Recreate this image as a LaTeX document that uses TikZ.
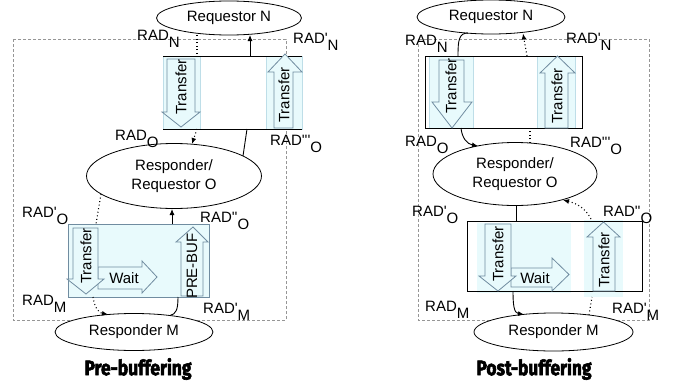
\documentclass[tikz,border=0pt]{standalone}
\usepackage{fontspec}
\setmainfont{Liberation Sans}
\newfontfamily\capfont{Fira Sans}[BoldFeatures={FakeBold=3}]
\usetikzlibrary{arrows.meta,shapes.geometric}
\definecolor{cyanfill}{RGB}{232,250,252}
\definecolor{stripline}{RGB}{190,222,232}
\definecolor{arrline}{RGB}{112,140,160}
\definecolor{dashc}{RGB}{150,150,150}
\newcommand\sbs[1]{\raisebox{-7pt}{#1}}
\newcommand\pq{\textquotesingle}
\tikzset{
  every node/.style={font=\fontsize{15}{19}\selectfont, inner sep=0pt},
  proc/.style={ellipse, draw=black, fill=white, line width=0.8pt, align=center},
  dashbox/.style={draw=dashc, dash pattern=on 3pt off 2pt, line width=0.7pt},
  strip/.style={fill=cyanfill, draw=stripline, line width=0.6pt},
  blk/.style={draw=black, line width=0.9pt},
  barrow/.style={draw=arrline, fill=cyanfill, line width=0.8pt},
  solidc/.style={draw=black, line width=0.9pt},
  dotc/.style={draw=black, line width=1.1pt, dash pattern=on 1pt off 2.6pt},
  arrtip/.style={-{Latex[length=6pt,width=5pt]}},
  lbl/.style={anchor=base west},
  captxt/.style={inner sep=0pt}
}
\begin{document}
\begin{tikzpicture}[x=1pt,y=-1pt]
\useasboundingbox (0,0) rectangle (677,388);
% ---------------- LEFT: Pre-buffering ----------------
\draw[dashbox] (13,39) rectangle (286,320);
% top rectangle
\node[strip, minimum width=37pt, minimum height=73pt, anchor=north west] (lTs1) at (163,56) {};
\node[strip, minimum width=36pt, minimum height=73pt, anchor=north west] (lTs2) at (266,56) {};
\coordinate (lTa) at (163,56); \coordinate (lTb) at (302,56);
\coordinate (lTc) at (163,129); \coordinate (lTd) at (302,129);
\draw[blk] (lTa) -- (lTb); \draw[blk] (lTc) -- (lTd);
\draw[barrow] (167,59) -- (195,59) -- (195,112) -- (200,112) -- (181,127) -- (162,112) -- (167,112) -- cycle;
\node[rotate=90] (lTt1) at (181,87) {Transfer};
\draw[barrow] (285,54) -- (302,72) -- (293,72) -- (293,128) -- (274,128) -- (274,72) -- (268,72) -- cycle;
\node[rotate=90] (lTt2) at (284,95) {Transfer};
% bottom rectangle
\node[fill=cyanfill, draw=arrline, line width=0.8pt, minimum width=141pt, minimum height=73pt, anchor=north west] (lB) at (68,224) {};
\draw[barrow] (98,267) -- (142,267) -- (142,261) -- (157,277) -- (142,293) -- (142,289) -- (98,289) -- cycle;
\node (lBw) at (124,278) {Wait};
\draw[barrow] (73,228) -- (98,228) -- (98,279) -- (104,279) -- (86,294) -- (67,279) -- (73,279) -- cycle;
\node[rotate=90] (lBt) at (86,256) {Transfer};
\draw[barrow] (193,227) -- (208,242) -- (203,242) -- (203,296) -- (181,296) -- (181,242) -- (176,242) -- cycle;
\node[rotate=90] (lBp) at (192,266) {PRE-BUF};
% ellipses
\node[proc, minimum width=145pt, minimum height=34pt] (lN) at (229,18) {Requestor N};
\node[proc, minimum width=175pt, minimum height=65pt] (lO) at (174,176) {Responder/\\Requestor O};
\node[proc, minimum width=158pt, minimum height=37pt] (lM) at (134,332) {Responder M};
% connectors
\coordinate (l1a) at (197,35); \coordinate (l1b) at (197,56);
\draw[dotc] (l1a) -- (l1b);
\coordinate (l2a) at (250,56); \coordinate (l2b) at (250,35);
\draw[solidc,arrtip] (l2a) -- (l2b);
\coordinate (l3a) at (197,129); \coordinate (l3b) at (192,144);
\draw[dotc,arrtip] (l3a) -- (l3b);
\coordinate (l4a) at (243,156); \coordinate (l4b) at (247,129);
\draw[solidc] (l4a) -- (l4b);
\coordinate (l5a) at (101,194); \coordinate (l5b) at (96,224);
\draw[dotc] (l5a) -- (l5b);
\coordinate (l6a) at (172,224); \coordinate (l6b) at (172,209);
\draw[solidc,arrtip] (l6a) -- (l6b);
\coordinate (l7a) at (93,297); \coordinate (l7b) at (108,314.5);
\draw[dotc,arrtip] (l7a) .. controls (95,310) and (100,313) .. (l7b);
\coordinate (l8a) at (170,315.5); \coordinate (l8b) at (178,297);
\draw[solidc] (l8a) .. controls (176,314) and (178,310) .. (l8b);
% labels
\node[lbl] (lL1) at (137,40) {RAD\sbs{N}};
\node[lbl] (lL2) at (293,43) {RAD\pq\sbs{N}};
\node[lbl] (lL3) at (115,140) {RAD\sbs{O}};
\node[lbl] (lL4) at (270,145) {RAD\pq\pq\pq\sbs{O}};
\node[lbl] (lL5) at (22,217) {RAD\pq\sbs{O}};
\node[lbl] (lL6) at (200,222) {RAD\pq\pq\sbs{O}};
\node[lbl] (lL7) at (22,305) {RAD\sbs{M}};
\node[lbl] (lL8) at (203,313) {RAD\pq\sbs{M}};
\node[captxt] (lcap) at (138,369) {\resizebox{107pt}{17pt}{\capfont\bfseries Pre-buffering}};
% ---------------- RIGHT: Post-buffering ----------------
\draw[dashbox] (418,39) rectangle (649,320);
% top rectangle
\node[strip, minimum width=44pt, minimum height=72pt, anchor=north west] (rTs1) at (429,56) {};
\node[strip, minimum width=38pt, minimum height=72pt, anchor=north west] (rTs2) at (537,56) {};
\node[blk, minimum width=157pt, minimum height=72pt, anchor=north west] (rT) at (425,56) {};
\draw[barrow] (439,60) -- (464,60) -- (464,102) -- (472,102) -- (452,128) -- (432,102) -- (439,102) -- cycle;
\node[rotate=90] (rTt1) at (451,86) {Transfer};
\draw[barrow] (557.5,56) -- (575,73) -- (568,73) -- (568,128) -- (545,128) -- (545,73) -- (540,73) -- cycle;
\node[rotate=90] (rTt2) at (557,96) {Transfer};
% bottom rectangle
\node[strip, draw=none, minimum width=94pt, minimum height=70pt, anchor=north west] (rBs1) at (477,223) {};
\node[strip, draw=none, minimum width=39pt, minimum height=77pt, anchor=north west] (rBs2) at (584,220) {};
\node[blk, minimum width=175pt, minimum height=70pt, anchor=north west] (rB) at (467,221) {};
\draw[barrow] (511,268) -- (552,268) -- (552,258) -- (569,274.5) -- (552,291) -- (552,287) -- (511,287) -- cycle;
\node (rBw) at (535,278) {Wait};
\draw[barrow] (485,224) -- (511,224) -- (511,276) -- (516,276) -- (498,291) -- (479,276) -- (485,276) -- cycle;
\node[rotate=90] (rBt1) at (498,254) {Transfer};
\draw[barrow] (603.5,222) -- (620,237) -- (615,237) -- (615,291) -- (593,291) -- (593,237) -- (587,237) -- cycle;
\node[rotate=90] (rBt2) at (604,260) {Transfer};
% ellipses
\node[proc, minimum width=148pt, minimum height=34pt] (rN) at (491,17) {Requestor N};
\node[proc, minimum width=164pt, minimum height=63pt] (rO) at (515,174) {Responder/\\Requestor O};
\node[proc, minimum width=159pt, minimum height=38pt] (rM) at (553.5,332) {Responder M};
% connectors
\coordinate (r1a) at (458,56); \coordinate (r1b) at (468,33);
\draw[solidc] (r1a) .. controls (458,40) and (459,33) .. (r1b);
\coordinate (r2a) at (527,56); \coordinate (r2b) at (523,33.5);
\draw[dotc,arrtip] (r2a) -- (r2b);
\coordinate (r3a) at (461,128); \coordinate (r3b) at (478,146);
\draw[solidc,arrtip] (r3a) .. controls (462,138) and (467,144) .. (r3b);
\coordinate (r4a) at (530,143); \coordinate (r4b) at (530,128);
\draw[dotc] (r4a) -- (r4b);
\coordinate (r5a) at (516,205.5); \coordinate (r5b) at (516,221);
\draw[solidc] (r5a) -- (r5b);
\coordinate (r6a) at (591,219); \coordinate (r6b) at (563,200);
\draw[dotc,arrtip] (r6a) .. controls (585,207) and (575,203) .. (r6b);
\coordinate (r7a) at (513,291); \coordinate (r7b) at (524,314.5);
\draw[solidc,arrtip] (r7a) .. controls (513,305) and (514,313) .. (r7b);
\coordinate (r8a) at (589,315); \coordinate (r8b) at (592,297);
\draw[dotc] (r8a) -- (r8b);
% labels
\node[lbl] (rL1) at (405,45) {RAD\sbs{N}};
\node[lbl] (rL2) at (566,43) {RAD\pq\sbs{N}};
\node[lbl] (rL3) at (405,146) {RAD\sbs{O}};
\node[lbl] (rL4) at (570,147) {RAD\pq\pq\pq\sbs{O}};
\node[lbl] (rL5) at (412,216) {RAD\pq\sbs{O}};
\node[lbl] (rL6) at (603,216) {RAD\pq\pq\sbs{O}};
\node[lbl] (rL7) at (425,311) {RAD\sbs{M}};
\node[lbl] (rL8) at (612,313) {RAD\pq\sbs{M}};
\node[captxt] (rcap) at (534,369) {\resizebox{115pt}{17pt}{\capfont\bfseries Post-buffering}};
\end{tikzpicture}
\end{document}
